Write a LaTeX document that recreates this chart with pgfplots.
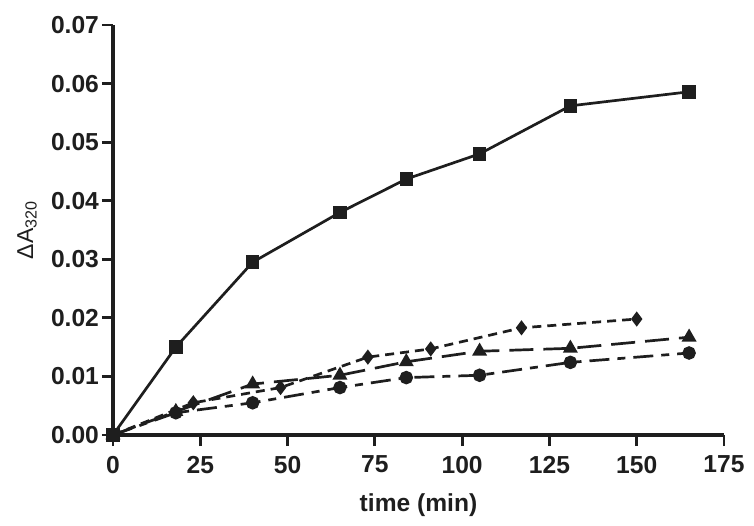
\documentclass[border=0pt]{standalone}
\usepackage{fontspec}
\setmainfont{Liberation Sans}
\usepackage{pgfplots}
\pgfplotsset{compat=1.18}
\definecolor{ink}{HTML}{1E1E1E}
\begin{document}
\begin{tikzpicture}
\useasboundingbox (-56.5pt,-45pt) rectangle (320.5pt,217.5pt);
\begin{axis}[
  scale only axis, width=305.5pt, height=205pt,
  xmin=0, xmax=175, ymin=0, ymax=0.07,
  axis x line*=bottom, axis y line*=left,
  xtick={0,25,50,75,100,125,150,175},
  ytick={0,0.01,0.02,0.03,0.04,0.05,0.06,0.07},
  tick align=outside, major tick length=5.5pt,
  tick style={line width=1.4pt, color=ink},
  axis line style={line width=1.8pt, color=ink},
  /pgf/number format/assume math mode=true,
  scaled y ticks=false,
  yticklabel style={/pgf/number format/fixed, /pgf/number format/fixed zerofill, /pgf/number format/precision=2, xshift=2pt},
  xticklabel style={yshift=-1.5pt},
  ticklabel style={font=\fontsize{12.3}{14}\selectfont\bfseries, text=ink},
  xlabel={time (min)},
  xlabel style={font=\fontsize{12.3}{14}\selectfont\bfseries, text=ink, at={(axis description cs:0.5,-0.171)}, anchor=center},
  ylabel={ΔA\textsubscript{320}},
  ylabel style={font=\fontsize{11.5}{14}\selectfont, text=ink, at={(axis description cs:-0.1408,0.5)}, anchor=center},
  clip=false,
  every axis plot/.append style={line width=1.35pt, color=ink},
]
% squares, solid
\addplot[mark=square*, mark size=2.7pt] coordinates {
 (0,0) (18,0.015) (40,0.0295) (65,0.038) (84,0.0437) (105,0.048) (131,0.0562) (165,0.0586)};
% diamonds, short dashes
\addplot[mark=diamond*, mark size=2.7pt, dash pattern=on 4.5pt off 3pt, mark options={solid}] coordinates {
 (0,0) (23,0.0055) (48,0.0081) (73,0.0133) (91,0.0147) (117,0.0183) (150,0.0198)};
% triangles, long dashes
\addplot[mark=triangle*, mark size=3pt, dash pattern=on 12pt off 5pt, mark options={solid}] coordinates {
 (0,0) (18,0.0040) (40,0.0087) (65,0.0102) (84,0.0125) (105,0.0143) (131,0.0148) (165,0.0167)};
% circles, dash-dot
\addplot[mark=*, mark size=2.7pt, dash pattern=on 10pt off 4pt on 4pt off 4pt, mark options={solid}] coordinates {
 (0,0) (18,0.0038) (40,0.0055) (65,0.0081) (84,0.0098) (105,0.0102) (131,0.0124) (165,0.0140)};
\end{axis}
\end{tikzpicture}
\end{document}
